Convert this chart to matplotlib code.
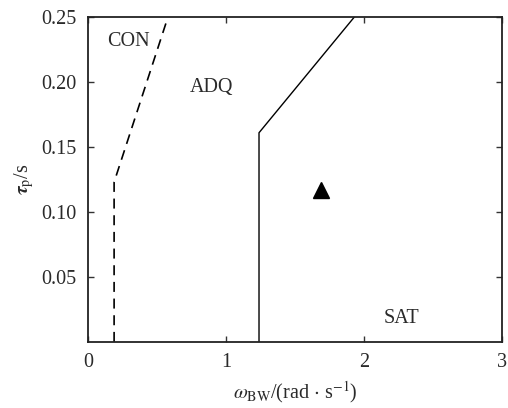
import matplotlib
matplotlib.use("Agg")
import matplotlib.pyplot as plt

plt.rcParams['font.family'] = ['Liberation Serif', 'DejaVu Serif']
plt.rcParams['mathtext.fontset'] = 'stix'

# boundary CON/ADQ (dashed)
con_x = [0.19, 0.19, 0.58]
con_y = [0.0, 0.123, 0.25]
# boundary ADQ/SAT (solid)
sat_x = [1.24, 1.24, 1.93]
sat_y = [0.0, 0.161, 0.25]
# design point
pt_x = [1.69]
pt_y = [0.117]

region_labels = ["CON", "ADQ", "SAT"]
region_x = [0.293, 0.895, 2.27]
region_y = [0.231, 0.196, 0.018]

xticks = [0, 1, 2, 3]
yticks = [0.05, 0.10, 0.15, 0.20, 0.25]

tc = '#2a2a2a'
fig = plt.figure(figsize=(5.08, 4.08), dpi=100)
ax = fig.add_axes([0.173, 0.162, 0.815, 0.796])
ax.plot(con_x, con_y, color='black', lw=1.2, ls=(0, (6, 4)))
ax.plot(sat_x, sat_y, color='black', lw=1.0)
ax.plot(pt_x, pt_y, marker='^', color='black', ms=12, ls='none')
for t, x, y in zip(region_labels, region_x, region_y):
    ax.text(x, y, t, fontsize=14.5, ha='center', va='center', color=tc)
ax.set_xlim(0, 3)
ax.set_ylim(0, 0.25)
ax.set_xticks(xticks)
ax.set_xticklabels([str(v) for v in xticks])
ax.set_yticks(yticks)
ax.set_yticklabels([f"{v:.2f}" for v in yticks])
ax.tick_params(direction='in', top=True, right=True, labelsize=14.5, length=4, width=1,
               pad=8, labelcolor=tc, color='#333333')
for s in ax.spines.values():
    s.set_linewidth(1.3)
    s.set_color('#222222')
ax.set_xlabel(r'$\omega_{\rm BW}$/(rad $\cdot$ s$^{-1}$)', fontsize=14.5, labelpad=5, color=tc)
ax.set_ylabel(r'$\boldsymbol{\tau}_{\rm p}$/s', fontsize=14.5, labelpad=4, color=tc)
fig.savefig('out.png', dpi=100)
